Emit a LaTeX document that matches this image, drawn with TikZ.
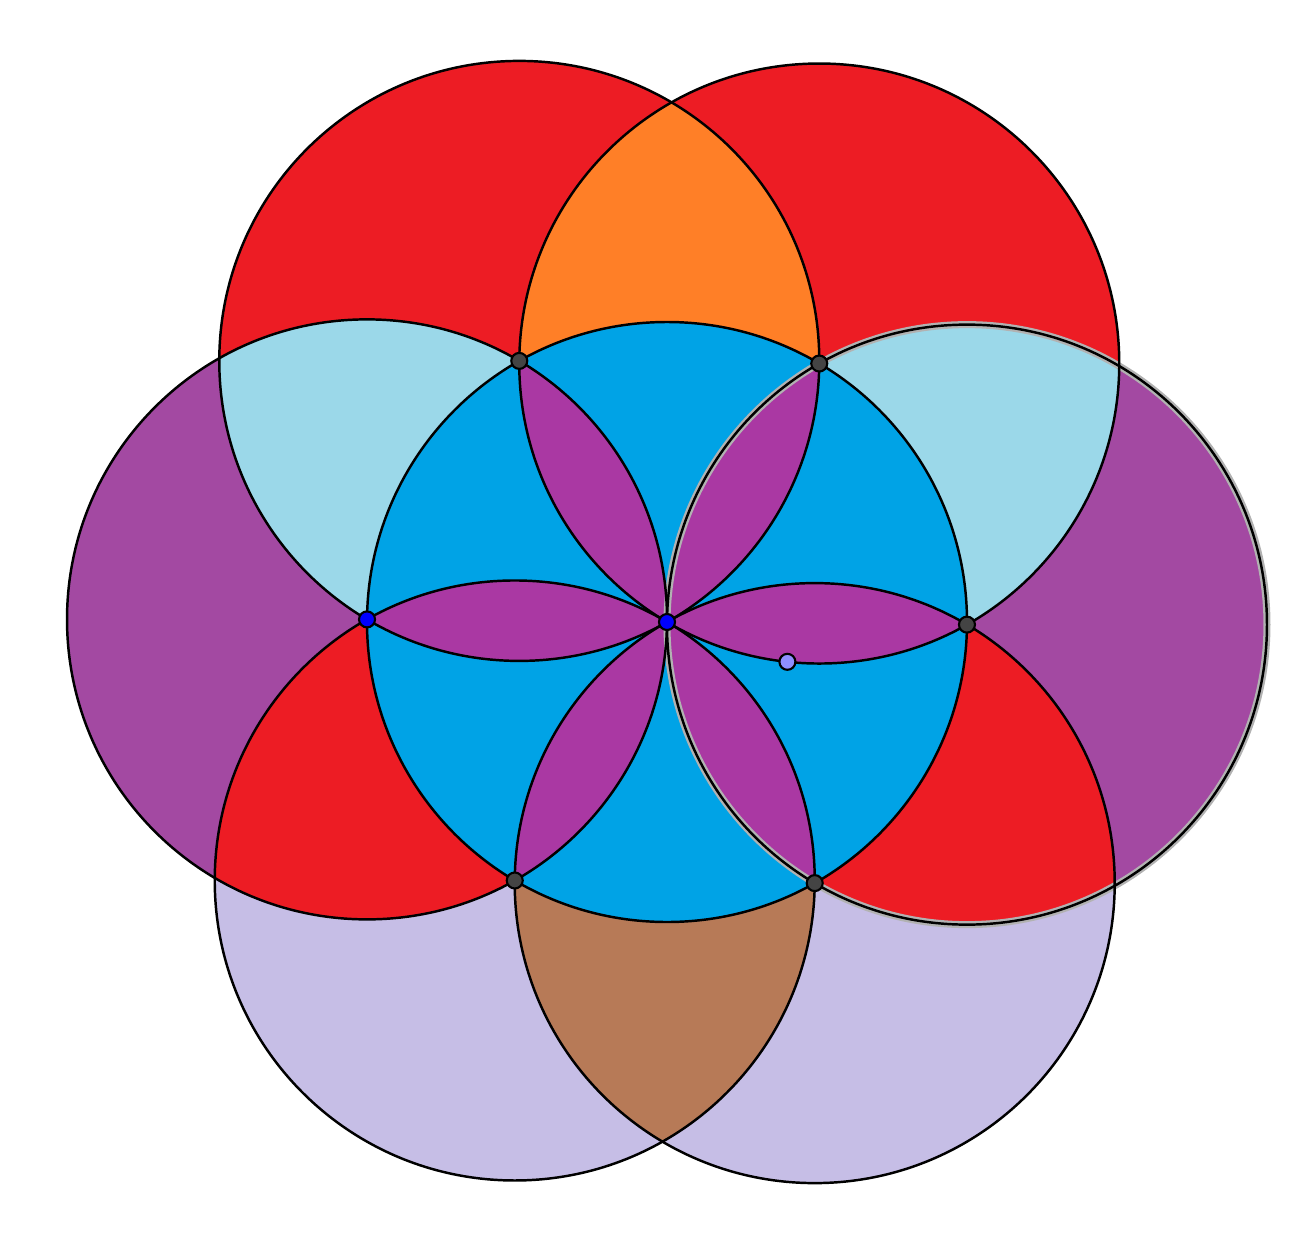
\documentclass[tikz,border=0pt]{standalone}
\definecolor{cred}{HTML}{ED1C24}
\definecolor{corange}{HTML}{FF7F27}
\definecolor{clblue}{HTML}{9BD8E9}
\definecolor{cpurple}{HTML}{A349A2}
\definecolor{clav}{HTML}{C6BEE6}
\definecolor{cbrown}{HTML}{B77A57}
\definecolor{cblue}{HTML}{00A3E6}
\definecolor{cpetal}{HTML}{AA38A3}
\definecolor{cdot}{HTML}{444444}
\definecolor{cpoint}{HTML}{8F8FFF}
\begin{document}
\begin{tikzpicture}[x=1cm,y=1cm,
  ring/.style={draw=black, line width=0.7pt},
  halo/.style={draw=gray!60, line width=2pt},
  dot/.style={circle, draw=black, line width=0.6pt, inner sep=0pt, minimum size=0.16cm}]
\useasboundingbox (0,0) rectangle (13.1,12.34);
\coordinate (C) at (6.67,6.12);
\path (C) ++(-0.5:3) coordinate (P0);
\path (C) ++(59.5:3) coordinate (P1);
\path (C) ++(119.5:3) coordinate (P2);
\path (C) ++(179.5:3) coordinate (P3);
\path (C) ++(239.5:3) coordinate (P4);
\path (C) ++(299.5:3) coordinate (P5);
\path (P1) ++(263.9:3) coordinate (Q);
% outer circle fills
\fill[clav] (P4) circle[radius=3] (P5) circle[radius=3];
\fill[cpurple] (P3) circle[radius=3] (P0) circle[radius=3];
\fill[cred] (P1) circle[radius=3] (P2) circle[radius=3];
% lenses between neighbouring outer circles
\begin{scope}\clip (P1) circle[radius=3]; \fill[corange] (P2) circle[radius=3];\end{scope}
\begin{scope}\clip (P2) circle[radius=3]; \fill[clblue] (P3) circle[radius=3];\end{scope}
\begin{scope}\clip (P1) circle[radius=3]; \fill[clblue] (P0) circle[radius=3];\end{scope}
\begin{scope}\clip (P3) circle[radius=3]; \fill[cred] (P4) circle[radius=3];\end{scope}
\begin{scope}\clip (P0) circle[radius=3]; \fill[cred] (P5) circle[radius=3];\end{scope}
\begin{scope}\clip (P4) circle[radius=3]; \fill[cbrown] (P5) circle[radius=3];\end{scope}
% central circle
\fill[cblue] (C) circle[radius=3];
% petals
\begin{scope}\clip (P0) circle[radius=3]; \fill[cpetal] (P2) circle[radius=3];\end{scope}
\begin{scope}\clip (P1) circle[radius=3]; \fill[cpetal] (P3) circle[radius=3];\end{scope}
\begin{scope}\clip (P2) circle[radius=3]; \fill[cpetal] (P4) circle[radius=3];\end{scope}
\begin{scope}\clip (P3) circle[radius=3]; \fill[cpetal] (P5) circle[radius=3];\end{scope}
\begin{scope}\clip (P4) circle[radius=3]; \fill[cpetal] (P0) circle[radius=3];\end{scope}
\begin{scope}\clip (P5) circle[radius=3]; \fill[cpetal] (P1) circle[radius=3];\end{scope}
% outlines
\draw[halo] (P0) circle[radius=3];
\draw[ring] (C) circle[radius=3];
\draw[ring] (P0) circle[radius=3];
\draw[ring] (P1) circle[radius=3];
\draw[ring] (P2) circle[radius=3];
\draw[ring] (P3) circle[radius=3];
\draw[ring] (P4) circle[radius=3];
\draw[ring] (P5) circle[radius=3];
% points
\node[dot, fill=cdot] (d0) at (P0) {};
\node[dot, fill=cdot] (d1) at (P1) {};
\node[dot, fill=cdot] (d2) at (P2) {};
\node[dot, fill=blue] (d3) at (P3) {};
\node[dot, fill=cdot] (d4) at (P4) {};
\node[dot, fill=cdot] (d5) at (P5) {};
\node[dot, fill=blue] (dc) at (C) {};
\node[dot, fill=cpoint] (dq) at (Q) {};
\end{tikzpicture}
\end{document}
